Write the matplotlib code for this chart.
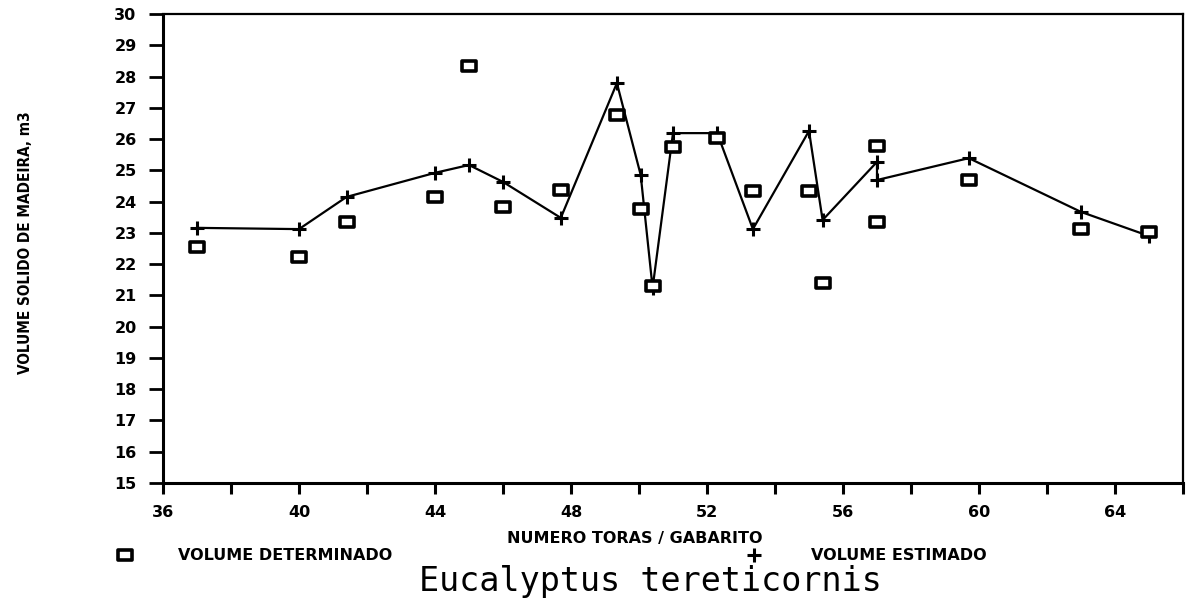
import matplotlib
matplotlib.use("Agg")
import matplotlib.pyplot as plt
from matplotlib.path import Path
from matplotlib.lines import Line2D
from matplotlib.ticker import MultipleLocator

# ---- data ----
numero_toras = [37.0, 40.0, 41.4, 44.0, 45.0, 46.0, 47.7, 49.35, 50.05, 50.4,
                51.0, 52.3, 53.35, 55.0, 55.4, 57.0, 57.0, 59.7, 63.0, 65.0]
volume_determinado = [22.55, 22.23, 23.35, 24.15, 28.34, 23.83, 24.37, 26.77, 23.76, 21.30,
                      25.75, 26.03, 24.34, 24.34, 21.40, 25.78, 23.35, 24.69, 23.12, 23.03]
volume_estimado = [23.16, 23.12, 24.15, 24.92, 25.17, 24.63, 23.48, 27.79, 24.85, 21.24,
                   26.19, 26.19, 23.12, 26.26, 23.41, 25.27, 24.69, 25.39, 23.67, 22.90]

x_limits = (36, 66)
y_limits = (15, 30)

title = "Eucalyptus tereticornis"
x_label = "NUMERO TORAS / GABARITO"
y_label = "VOLUME SOLIDO DE MADEIRA, m3"
legend_det = "VOLUME DETERMINADO"
legend_est = "VOLUME ESTIMADO"

# ---- style ----
W, H = 1189, 601
fig = plt.figure(figsize=(W / 100, H / 100), dpi=100)
fig.patch.set_facecolor("white")

left, right, top, bottom = 163, 1183, 14, 483
ax = fig.add_axes([left / W, 1 - bottom / H, (right - left) / W, (bottom - top) / H])

rect = Path([(-1.0, -0.72), (1.0, -0.72), (1.0, 0.72), (-1.0, 0.72), (-1.0, -0.72)],
            [Path.MOVETO, Path.LINETO, Path.LINETO, Path.LINETO, Path.CLOSEPOLY])

ax.plot(numero_toras, volume_estimado, color="black", lw=1.6, marker="+",
        markersize=10, markeredgewidth=2.2, zorder=3)
ax.plot(numero_toras, volume_determinado, linestyle="none", marker=rect,
        markersize=9.5, markerfacecolor="white", markeredgecolor="black",
        markeredgewidth=2.6, zorder=4)

ax.set_xlim(*x_limits)
ax.set_ylim(*y_limits)
ax.xaxis.set_major_locator(MultipleLocator(4))
ax.xaxis.set_minor_locator(MultipleLocator(2))
ax.yaxis.set_major_locator(MultipleLocator(1))

ax.tick_params(axis="x", which="both", direction="out", length=8, width=2.2,
               pad=8, labelsize=11.5)
ax.tick_params(axis="y", which="both", direction="out", length=10, width=2.0,
               pad=9, labelsize=11.5)
for lbl in ax.get_xticklabels() + ax.get_yticklabels():
    lbl.set_fontweight("heavy")

for side in ["left", "bottom"]:
    ax.spines[side].set_linewidth(2.2)
for side in ["top", "right"]:
    ax.spines[side].set_linewidth(1.6)

# y axis label
fig.text(26 / W, 1 - 243 / H, y_label, rotation=90, ha="center", va="center",
         family="DejaVu Sans", fontstretch="condensed", weight="bold", size=11)

# x axis label
fig.text(635 / W, 1 - 538 / H, x_label, ha="center", va="center",
         family="DejaVu Sans", weight="bold", size=11.5)

# legend row
ly = 1 - 555 / H
fig.add_artist(Line2D([125 / W], [ly], transform=fig.transFigure, linestyle="none",
                      marker=rect, markersize=9.5, markerfacecolor="white",
                      markeredgecolor="black", markeredgewidth=2.6))
fig.text(178 / W, ly, legend_det, ha="left", va="center",
         family="DejaVu Sans", weight="bold", size=11.5)
fig.add_artist(Line2D([754 / W], [ly], transform=fig.transFigure, linestyle="none",
                      marker="+", markersize=10, markeredgewidth=2.2, color="black"))
fig.text(811 / W, ly, legend_est, ha="left", va="center",
         family="DejaVu Sans", weight="bold", size=11.5)

# title
fig.text(650 / W, 1 - 581 / H, title, ha="center", va="center",
         family="DejaVu Sans Mono", size=24)

fig.savefig("out.png", dpi=100, facecolor="white")
